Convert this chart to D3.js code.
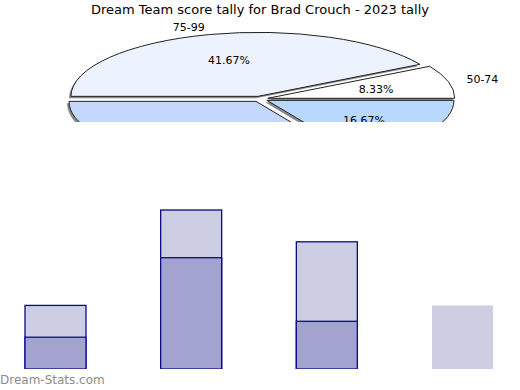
<!DOCTYPE html>
<html>
<head>
<meta charset="utf-8">
<script src="https://cdn.jsdelivr.net/npm/d3@7"></script>
<style>
  body { margin: 0; background: #fff; }
  svg { display: block; font-family: "DejaVu Sans", sans-serif; }
</style>
</head>
<body>
<svg id="chart" width="520" height="390"></svg>
<script>
// pie slices: score ranges and number of games
const pieLabels = ['75-99', '50-74', '100-124', '25-49']
const pieCounts = [5, 1, 2, 4]
const pieColors = ['#ecf2fe', '#ffffff', '#b8d8ff', '#c4d8fe']

// stacked bars
const barCats = ['A', 'B', 'C', 'D']
const barLower = [2, 7, 3, 0]
const barTotal = [4, 10, 8, 4]

const svg = d3.select('#chart')
const W = 520

svg.append('text')
  .attr('x', W / 2).attr('y', 14)
  .attr('text-anchor', 'middle')
  .attr('font-size', 13)
  .attr('fill', '#000')
  .text('Dream Team score tally for Brad Crouch - 2023 tally')

// pie (flattened ellipse, exploded, clipped)
const cx = 260, cy = 99, rx = 187, ry = 64, R = 100, boom = 8
const sy = ry / rx

svg.append('defs').append('clipPath').attr('id', 'pieclip')
  .append('rect').attr('x', 0).attr('y', 0).attr('width', W).attr('height', 122)

const pie = d3.pie().sort(null).startAngle(-Math.PI / 2).endAngle(Math.PI * 1.5)
const arcs = pie(pieCounts)
const arc = d3.arc().innerRadius(0).outerRadius(R)
const total = d3.sum(pieCounts)

const pg = svg.append('g').attr('clip-path', 'url(#pieclip)')

function offset (d, r) {
  const a = (d.startAngle + d.endAngle) / 2
  return [Math.sin(a) * r, -Math.cos(a) * r * sy]
}

// shadow
pg.selectAll('path.shadow').data(arcs).enter().append('path')
  .attr('class', 'shadow')
  .attr('transform', d => {
    const o = offset(d, boom)
    return 'translate(' + (cx + o[0] - 2) + ',' + (cy + o[1] + 2) + ') scale(' + (rx / R) + ',' + (ry / R) + ')'
  })
  .attr('d', arc)
  .attr('fill', '#8a8a8a')

pg.selectAll('path.slice').data(arcs).enter().append('path')
  .attr('class', 'slice')
  .attr('transform', d => {
    const o = offset(d, boom)
    return 'translate(' + (cx + o[0]) + ',' + (cy + o[1]) + ') scale(' + (rx / R) + ',' + (ry / R) + ')'
  })
  .attr('d', arc)
  .attr('fill', (d, i) => pieColors[i])
  .attr('stroke', '#222')
  .attr('stroke-width', 1)
  .attr('vector-effect', 'non-scaling-stroke')

function pos (d, f) {
  const a = (d.startAngle + d.endAngle) / 2
  const o = offset(d, boom)
  return [cx + o[0] + Math.sin(a) * rx * f, cy + o[1] - Math.cos(a) * ry * f]
}

pg.selectAll('text.pct').data(arcs).enter().append('text')
  .attr('class', 'pct')
  .attr('x', d => pos(d, 0.6)[0])
  .attr('y', d => pos(d, 0.6)[1] + 1.5)
  .attr('text-anchor', 'middle')
  .attr('dominant-baseline', 'middle')
  .attr('font-size', 11)
  .text(d => (d.data / total * 100).toFixed(2) + '%')

pg.selectAll('text.lbl').data(arcs).enter().append('text')
  .attr('class', 'lbl')
  .attr('x', d => pos(d, 1.1)[0])
  .attr('y', d => pos(d, 1.1)[1])
  .attr('text-anchor', d => pos(d, 1.1)[0] < cx ? 'end' : 'start')
  .attr('dominant-baseline', 'middle')
  .attr('font-size', 11)
  .text((d, i) => pieLabels[i])

// bars
const x = d3.scalePoint().domain(barCats).range([55.5, 462.5])
const y = d3.scaleLinear().domain([0, 10]).range([369, 210])
const bw = 61

const bars = svg.append('g')
barCats.forEach((c, i) => {
  bars.append('rect')
    .attr('x', x(c) - bw / 2).attr('width', bw)
    .attr('y', y(barTotal[i])).attr('height', y(0) - y(barTotal[i]))
    .attr('fill', '#cdcde4')
    .attr('stroke', barLower[i] > 0 ? '#0c0c88' : 'none')
    .attr('stroke-width', 1.3)
  if (barLower[i] > 0) {
    bars.append('rect')
      .attr('x', x(c) - bw / 2).attr('width', bw)
      .attr('y', y(barLower[i])).attr('height', y(0) - y(barLower[i]))
      .attr('fill', '#a3a3d0')
      .attr('stroke', '#0c0c88')
      .attr('stroke-width', 1.3)
  }
})

// cover the bottom edge so bars look cut at the baseline
svg.append('rect').attr('x', 0).attr('y', y(0)).attr('width', W).attr('height', 390 - y(0)).attr('fill', '#fff')

svg.append('text')
  .attr('x', 0).attr('y', 384)
  .attr('font-size', 12)
  .attr('fill', '#8c8c8c')
  .text('Dream-Stats.com')
</script>
</body>
</html>
